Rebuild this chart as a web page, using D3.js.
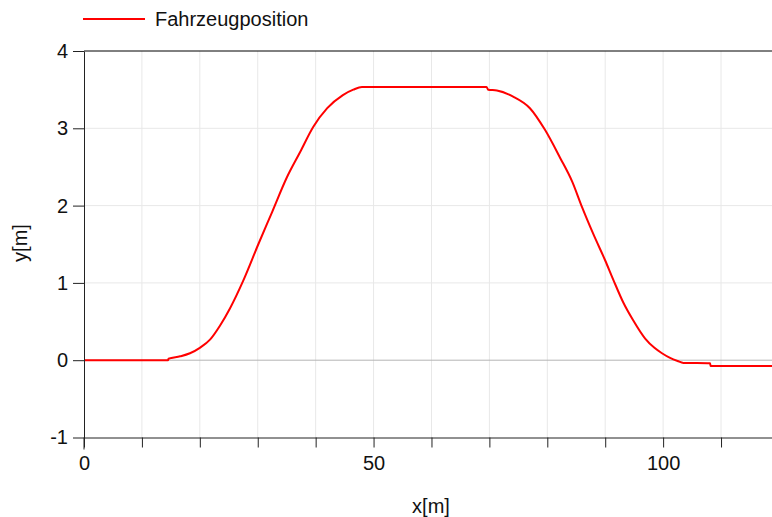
<!DOCTYPE html>
<html>
<head>
<meta charset="utf-8">
<script src="https://cdn.jsdelivr.net/npm/d3@7"></script>
<style>
  body { margin: 0; background: #fff; }
  svg { display: block; font-family: "Liberation Sans", Arial, sans-serif; }
</style>
</head>
<body>
<div id="chart"></div>
<script>
// Fahrzeugposition
const xs = [0, 14.5, 14.6, 16.6, 18.3, 20.0, 21.8, 23.5, 25.2, 27.5, 30.1, 32.5, 35, 37.3,
  39.6, 42, 44.7, 46.5, 48, 69.5, 69.8, 71.3, 74.1, 77, 79.6, 82.2, 84.3, 86, 87.9, 90,
  91.4, 93.1, 94.8, 96.9, 98.5, 99.8, 101.2, 102.5, 103.5, 108.1, 108.2, 118.8];
const ys = [0, 0, 0.02, 0.05, 0.09, 0.16, 0.27, 0.45, 0.67, 1.03, 1.5, 1.92, 2.36, 2.69,
  3.02, 3.26, 3.43, 3.5, 3.535, 3.535, 3.5, 3.49, 3.41, 3.26, 2.98, 2.62, 2.31, 1.98, 1.64, 1.29,
  1.04, 0.75, 0.52, 0.28, 0.16, 0.09, 0.03, -0.01, -0.035, -0.04, -0.075, -0.075];
const xTicks = [0, 10, 20, 30, 40, 50, 60, 70, 80, 90, 100, 110];
const xLabels = [0, 50, 100];
const yTicks = [-1, 0, 1, 2, 3, 4];
const seriesName = 'Fahrzeugposition';

const W = 772, H = 517;
const margin = { top: 51, right: 0, bottom: 79.5, left: 84 };

const svg = d3.select('#chart').append('svg')
  .attr('width', W).attr('height', H);

const x = d3.scaleLinear().domain([0, 118.8]).range([margin.left, W - margin.right]);
const y = d3.scaleLinear().domain([-1, 4]).range([H - margin.bottom, margin.top]);

// grid
svg.append('g')
  .selectAll('line')
  .data(xTicks.filter(d => d > 0))
  .join('line')
  .attr('x1', d => x(d)).attr('x2', d => x(d))
  .attr('y1', y(4)).attr('y2', y(-1))
  .attr('stroke', '#e8e8e8').attr('stroke-width', 1);

svg.append('g')
  .selectAll('line')
  .data(yTicks.filter(d => d > -1 && d < 4))
  .join('line')
  .attr('x1', x(0)).attr('x2', W)
  .attr('y1', d => y(d)).attr('y2', d => y(d))
  .attr('stroke', d => d === 0 ? '#b4b4b4' : '#e8e8e8').attr('stroke-width', 1);

// top border
svg.append('line')
  .attr('x1', x(0)).attr('x2', W)
  .attr('y1', y(4)).attr('y2', y(4))
  .attr('stroke', '#000').attr('stroke-width', 1);

// curve
const pts = xs.map((d, i) => [d, ys[i]]);
svg.append('path')
  .datum(pts)
  .attr('fill', 'none')
  .attr('stroke', '#ff0000')
  .attr('stroke-width', 2)
  .attr('d', d3.line().x(d => x(d[0])).y(d => y(d[1])).curve(d3.curveMonotoneX));

// axes
svg.append('g')
  .attr('transform', `translate(0,${y(-1)})`)
  .call(d3.axisBottom(x)
    .tickValues(xTicks)
    .tickSize(10)
    .tickSizeOuter(0)
    .tickPadding(8)
    .tickFormat(d => xLabels.includes(d) ? d : ''))
  .call(g => g.selectAll('text').attr('font-size', 20).attr('fill', '#111').attr('font-family', null))
  .call(g => g.selectAll('line, path').attr('stroke', '#222'));

svg.append('g')
  .attr('transform', `translate(${x(0)},0)`)
  .call(d3.axisLeft(y)
    .tickValues(yTicks)
    .tickSize(11)
    .tickSizeOuter(0)
    .tickPadding(5)
    .tickFormat(d => String(d)))
  .call(g => g.selectAll('text').attr('font-size', 20).attr('fill', '#111').attr('font-family', null))
  .call(g => g.selectAll('line, path').attr('stroke', '#222'));

// y axis stub below the x axis
svg.append('line')
  .attr('x1', x(0)).attr('x2', x(0))
  .attr('y1', y(-1)).attr('y2', y(-1) + 12)
  .attr('stroke', '#222');

// axis titles
svg.append('text')
  .attr('x', 431).attr('y', 513)
  .attr('text-anchor', 'middle')
  .attr('font-size', 20).attr('fill', '#111')
  .text('x[m]');

svg.append('text')
  .attr('transform', 'translate(27,243) rotate(-90)')
  .attr('text-anchor', 'middle')
  .attr('font-size', 20).attr('fill', '#111')
  .text('y[m]');

// legend
svg.append('line')
  .attr('x1', 83).attr('x2', 145)
  .attr('y1', 19).attr('y2', 19)
  .attr('stroke', '#ff0000').attr('stroke-width', 2);
svg.append('text')
  .attr('x', 155).attr('y', 26)
  .attr('font-size', 20).attr('fill', '#111')
  .text(seriesName);
</script>
</body>
</html>
